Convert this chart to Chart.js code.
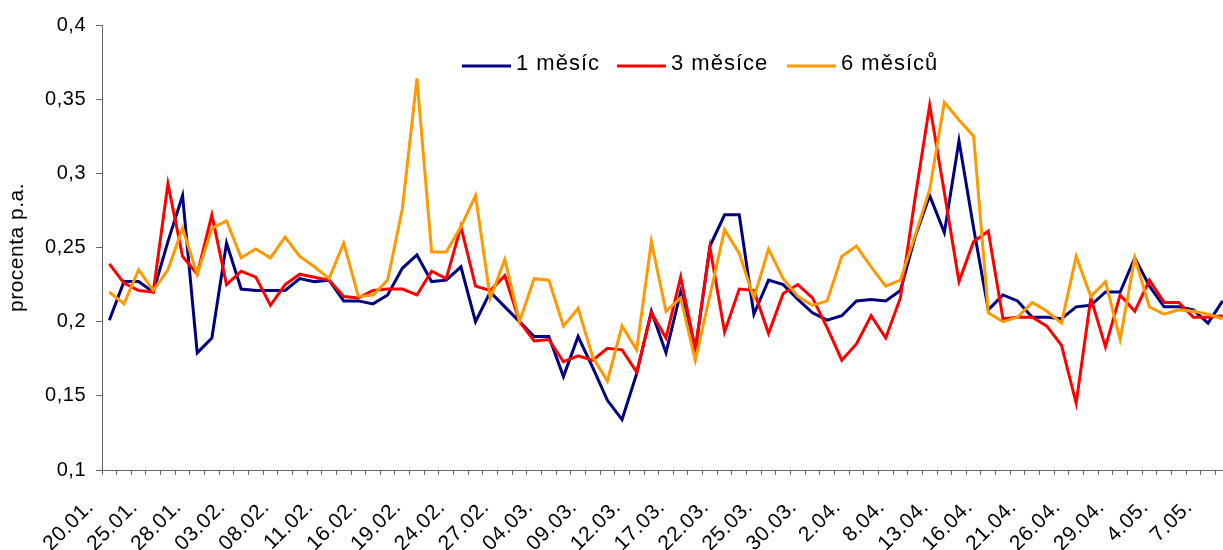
<!DOCTYPE html>
<html>
<head>
<meta charset="utf-8">
<script src="https://cdn.jsdelivr.net/npm/chart.js@4.4.1/dist/chart.umd.min.js"></script>
<style>
  html, body { margin: 0; padding: 0; background: #fff; overflow: hidden; }
  #wrap { width: 1240px; height: 550px; }
</style>
</head>
<body>
<div id="wrap"><canvas id="rates" width="1240" height="550"></canvas></div>
<script>
const dates = [
  "20.01.", "21.01.", "22.01.", "25.01.", "26.01.", "27.01.", "28.01.", "29.01.", "02.02.",
  "03.02.", "04.02.", "05.02.", "08.02.", "09.02.", "10.02.", "11.02.", "12.02.", "15.02.",
  "16.02.", "17.02.", "18.02.", "19.02.", "22.02.", "23.02.", "24.02.", "25.02.", "26.02.",
  "27.02.", "02.03.", "03.03.", "04.03.", "05.03.", "08.03.", "09.03.", "10.03.", "11.03.",
  "12.03.", "15.03.", "16.03.", "17.03.", "18.03.", "19.03.", "22.03.", "23.03.", "24.03.",
  "25.03.", "26.03.", "29.03.", "30.03.", "31.03.", "1.04.", "2.04.", "6.04.", "7.04.",
  "8.04.", "9.04.", "12.04.", "13.04.", "14.04.", "15.04.", "16.04.", "19.04.", "20.04.",
  "21.04.", "22.04.", "23.04.", "26.04.", "27.04.", "28.04.", "29.04.", "30.04.", "3.05.",
  "4.05.", "5.05.", "6.05.", "7.05.", "10.05."
];

const rate1m = [
  0.201, 0.227, 0.227, 0.220, 0.254, 0.285, 0.179, 0.189, 0.253,
  0.222, 0.221, 0.221, 0.221, 0.229, 0.227, 0.228, 0.214, 0.214,
  0.212, 0.218, 0.236, 0.245, 0.227, 0.228, 0.237, 0.200, 0.220,
  0.210, 0.200, 0.190, 0.190, 0.163, 0.190, 0.169, 0.147, 0.134,
  0.165, 0.207, 0.179, 0.220, 0.180, 0.251, 0.272, 0.272, 0.205,
  0.228, 0.225, 0.215, 0.206, 0.201, 0.204, 0.214, 0.215, 0.214,
  0.221, 0.257, 0.285, 0.260, 0.322, 0.263, 0.208, 0.218, 0.214,
  0.203, 0.203, 0.202, 0.210, 0.211, 0.220, 0.220, 0.243, 0.224,
  0.210, 0.210, 0.208, 0.199, 0.214
];

const rate3m = [
  0.239, 0.226, 0.221, 0.220, 0.293, 0.244, 0.232, 0.272, 0.225,
  0.234, 0.230, 0.211, 0.225, 0.232, 0.230, 0.228, 0.217, 0.216,
  0.221, 0.222, 0.222, 0.218, 0.234, 0.229, 0.264, 0.224, 0.221,
  0.231, 0.200, 0.187, 0.188, 0.173, 0.177, 0.174, 0.182, 0.181,
  0.166, 0.206, 0.189, 0.230, 0.182, 0.250, 0.193, 0.222, 0.221,
  0.192, 0.219, 0.225, 0.216, 0.196, 0.174, 0.185, 0.204, 0.189,
  0.216, 0.283, 0.346, 0.287, 0.227, 0.254, 0.261, 0.202, 0.203,
  0.203, 0.197, 0.184, 0.145, 0.216, 0.183, 0.218, 0.207, 0.228,
  0.213, 0.213, 0.203, 0.203, 0.204
];

const rate6m = [
  0.220, 0.212, 0.235, 0.221, 0.235, 0.263, 0.232, 0.263, 0.268,
  0.243, 0.249, 0.243, 0.257, 0.244, 0.237, 0.229, 0.253, 0.217,
  0.218, 0.228, 0.276, 0.364, 0.247, 0.247, 0.264, 0.285, 0.216,
  0.242, 0.200, 0.229, 0.228, 0.197, 0.209, 0.176, 0.160, 0.197,
  0.181, 0.254, 0.207, 0.216, 0.174, 0.218, 0.262, 0.246, 0.216,
  0.249, 0.229, 0.217, 0.211, 0.214, 0.244, 0.251, 0.237, 0.224,
  0.228, 0.258, 0.289, 0.348, 0.336, 0.325, 0.206, 0.200, 0.203,
  0.213, 0.207, 0.199, 0.244, 0.217, 0.227, 0.188, 0.243, 0.210,
  0.205, 0.208, 0.207, 0.205, 0.202
];

const seriesNames = ["1 měsíc", "3 měsíce", "6 měsíců"];
const seriesColors = ["#000080", "#ff0000", "#ff9900"];

const FONT = "'Liberation Sans', Arial, sans-serif";
const AXIS = "#666666";

// slightly looser text, like the old office charts
const looseText = {
  id: "looseText",
  beforeDraw(chart) {
    chart.ctx.letterSpacing = "0.5px";
  }
};

// legend sits inside the plot, above the lines
const inlineLegend = {
  id: "inlineLegend",
  afterDraw(chart) {
    const ctx = chart.ctx;
    const slots = [462, 617, 787];
    ctx.save();
    ctx.font = "22px " + FONT;
    ctx.letterSpacing = "1px";
    ctx.textBaseline = "middle";
    ctx.fillStyle = "#000";
    chart.data.datasets.forEach((ds, i) => {
      const x = slots[i];
      ctx.strokeStyle = ds.borderColor;
      ctx.lineWidth = 3;
      ctx.beginPath();
      ctx.moveTo(x, 66);
      ctx.lineTo(x + 49, 66);
      ctx.stroke();
      ctx.fillText(ds.label, x + 54, 64);
    });
    ctx.restore();
  }
};

const datasets = [rate1m, rate3m, rate6m].map((values, i) => ({
  label: seriesNames[i],
  data: values,
  borderColor: seriesColors[i],
  backgroundColor: seriesColors[i],
  borderWidth: 3,
  pointRadius: 0,
  tension: 0,
  order: 2 - i
}));

new Chart(document.getElementById("rates"), {
  type: "line",
  data: { labels: dates, datasets: datasets },
  options: {
    responsive: false,
    animation: false,
    layout: { padding: { top: 25, right: 10, left: 0, bottom: 0 } },
    plugins: {
      legend: { display: false },
      tooltip: { enabled: false }
    },
    scales: {
      x: {
        offset: true,
        afterFit: (scale) => {
          scale.height = 80;
          scale.paddingLeft = 0;
          scale.paddingRight = 0;
        },
        grid: {
          offset: true,
          drawOnChartArea: false,
          color: AXIS,
          tickLength: 5
        },
        border: { color: AXIS, width: 1 },
        ticks: {
          autoSkip: false,
          minRotation: 45,
          maxRotation: 45,
          padding: 20,
          labelOffset: -19,
          color: "#000",
          font: { family: FONT, size: 21 },
          callback: (v, i) => (i % 3 === 0 ? dates[i] : "")
        }
      },
      y: {
        min: 0.1,
        max: 0.4,
        afterFit: (scale) => { scale.width = 102; },
        grid: {
          drawOnChartArea: false,
          color: AXIS,
          tickLength: 6
        },
        border: { color: AXIS, width: 1 },
        ticks: {
          stepSize: 0.05,
          padding: 10,
          color: "#000",
          font: { family: FONT, size: 20 },
          callback: (v) => v.toFixed(2).replace(/0$/, "").replace(".", ",")
        },
        title: {
          display: true,
          text: "procenta p.a.",
          color: "#000",
          font: { family: FONT, size: 21 },
          padding: { top: 5, bottom: 0 }
        }
      }
    }
  },
  plugins: [looseText, inlineLegend]
});
</script>
</body>
</html>
